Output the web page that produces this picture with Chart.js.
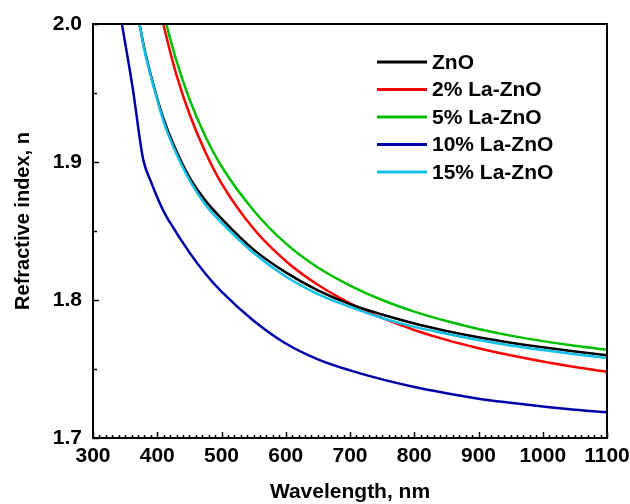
<!DOCTYPE html>
<html>
<head>
<meta charset="utf-8">
<script src="https://cdn.jsdelivr.net/npm/chart.js@4.4.1/dist/chart.umd.min.js"></script>
<style>
  html, body { margin: 0; padding: 0; background: #ffffff; }
  #wrap { width: 630px; height: 504px; }
</style>
</head>
<body>
<div id="wrap"><canvas id="c" width="630" height="504"></canvas></div>
<script>
// ---- data ----
const seriesLabels = ['ZnO', '2% La-ZnO', '5% La-ZnO', '10% La-ZnO', '15% La-ZnO'];
const seriesColors = ['#000000', '#ff0000', '#00bf00', '#0000a8', '#12c0e8'];

const lambdaZnO = [372.4, 380, 390, 400, 410, 425, 450, 475, 500, 550, 600, 650, 700, 750, 800, 850, 900, 950, 1000, 1050, 1100];
const nZnO      = [2.000, 1.982, 1.963, 1.946, 1.931, 1.913, 1.889, 1.872, 1.859, 1.8365, 1.820, 1.807, 1.797, 1.7895, 1.783, 1.7776, 1.773, 1.7691, 1.7657, 1.7627, 1.760];

const lambdaLa2 = [409.4, 420, 430, 450, 475, 500, 550, 600, 650, 700, 750, 800, 850, 900, 950, 1000, 1050, 1100];
const nLa2      = [2.000, 1.980, 1.963, 1.935, 1.907, 1.8845, 1.8516, 1.8283, 1.811, 1.7976, 1.787, 1.7783, 1.7711, 1.7651, 1.7599, 1.7554, 1.7515, 1.748];

const lambdaLa5 = [414.2, 420, 430, 450, 475, 500, 550, 600, 650, 700, 750, 800, 850, 900, 950, 1000, 1050, 1100];
const nLa5      = [2.000, 1.9896, 1.9733, 1.9457, 1.9185, 1.8969, 1.8649, 1.841, 1.8235, 1.8105, 1.800, 1.7916, 1.7848, 1.779, 1.7742, 1.7702, 1.7668, 1.764];

const lambdaLa10 = [345, 362, 378, 390, 400, 410, 420, 450, 475, 500, 550, 600, 650, 700, 750, 800, 850, 900, 950, 1000, 1050, 1100];
const nLa10      = [2.000, 1.953, 1.902, 1.886, 1.8745, 1.8642, 1.856, 1.8345, 1.819, 1.806, 1.785, 1.7685, 1.757, 1.749, 1.7425, 1.737, 1.7325, 1.7285, 1.7255, 1.7228, 1.7205, 1.7187];

const lambdaLa15 = [372.4, 380, 390, 400, 410, 425, 450, 475, 500, 550, 600, 650, 700, 750, 800, 850, 900, 950, 1000, 1050, 1100];
const nLa15      = [2.000, 1.981, 1.962, 1.945, 1.929, 1.911, 1.887, 1.869, 1.856, 1.834, 1.817, 1.8043, 1.795, 1.787, 1.7805, 1.7756, 1.771, 1.767, 1.7637, 1.7607, 1.758];

const xTickValues = [300, 400, 500, 600, 700, 800, 900, 1000, 1100];
const yTickValues = [1.7, 1.8, 1.9, 2.0];
const xTitle = 'Wavelength, nm';
const yTitle = 'Refractive index, n';

// ---- build datasets (15% drawn above ZnO, as in the reference) ----
const seriesX = [lambdaZnO, lambdaLa2, lambdaLa5, lambdaLa10, lambdaLa15];
const seriesY = [nZnO, nLa2, nLa5, nLa10, nLa15];
const drawOrder = [2, 3, 4, 5, 1];
const datasets = seriesLabels.map((label, i) => ({
  label,
  data: seriesX[i].map((x, k) => ({ x, y: seriesY[i][k] })),
  borderColor: seriesColors[i],
  backgroundColor: seriesColors[i],
  borderWidth: 2.5,
  pointRadius: 0,
  fill: false,
  order: drawOrder[i],
  cubicInterpolationMode: 'monotone'
}));

const FONT = 'Liberation Sans, Arial, Helvetica, sans-serif';

const frameAndTicks = {
  id: 'frameAndTicks',
  afterDatasetsDraw(chart) {
    const { ctx, chartArea: a, scales } = chart;
    const xs = scales.x, ys = scales.y;
    ctx.save();
    ctx.strokeStyle = '#000';
    ctx.lineWidth = 2;
    ctx.strokeRect(a.left, a.top, a.right - a.left, a.bottom - a.top);
    ctx.lineWidth = 1.5;
    ctx.beginPath();
    for (let v = xs.min; v <= xs.max + 0.001; v += 10) {
      const px = Math.round(xs.getPixelForValue(v)) + 0.5;
      const major = Math.abs(v % 100) < 0.001;
      const len = major ? 6 : 3;
      ctx.moveTo(px, a.bottom);
      ctx.lineTo(px, a.bottom - len);
    }
    for (let v = ys.min; v <= ys.max + 1e-6; v += 0.05) {
      const py = Math.round(ys.getPixelForValue(v)) + 0.5;
      const major = Math.abs(Math.round(v * 100) % 10) < 0.001;
      const len = major ? 6 : 4;
      ctx.moveTo(a.left, py);
      ctx.lineTo(a.left + len, py);
    }
    ctx.stroke();
    ctx.restore();
  }
};

const yAxisTitle = {
  id: 'yAxisTitle',
  afterDraw(chart) {
    const { ctx } = chart;
    ctx.save();
    ctx.translate(23, 221);
    ctx.rotate(-Math.PI / 2);
    ctx.font = 'bold 20px ' + FONT;
    ctx.fillStyle = '#000';
    ctx.textAlign = 'center';
    ctx.textBaseline = 'middle';
    ctx.fillText(yTitle, 0, 0);
    ctx.restore();
  }
};

const insideLegend = {
  id: 'insideLegend',
  afterDraw(chart) {
    const { ctx } = chart;
    const x0 = 377, x1 = 427, tx = 432, y0 = 62, dy = 27.5;
    ctx.save();
    ctx.font = 'bold 21px ' + FONT;
    ctx.textBaseline = 'middle';
    ctx.textAlign = 'left';
    chart.data.datasets.forEach((ds, i) => {
      const y = y0 + i * dy;
      ctx.strokeStyle = ds.borderColor;
      ctx.lineWidth = 3;
      ctx.beginPath();
      ctx.moveTo(x0, y);
      ctx.lineTo(x1, y);
      ctx.stroke();
      ctx.fillStyle = '#000';
      ctx.fillText(ds.label, tx, y + 1);
    });
    ctx.restore();
  }
};

new Chart(document.getElementById('c').getContext('2d'), {
  type: 'line',
  data: { datasets },
  plugins: [frameAndTicks, yAxisTitle, insideLegend],
  options: {
    responsive: false,
    animation: false,
    devicePixelRatio: 1,
    layout: { padding: { top: 24, right: 23, left: 0, bottom: 0 } },
    plugins: { legend: { display: false }, tooltip: { enabled: false } },
    scales: {
      x: {
        type: 'linear',
        min: 300, max: 1100,
        afterBuildTicks: (s) => { s.ticks = xTickValues.map(v => ({ value: v })); },
        afterFit: (s) => { s.height = 66; s.paddingLeft = 0; s.paddingRight = 0; },
        grid: { display: false, drawTicks: false },
        border: { display: false },
        ticks: { color: '#000', padding: 6, maxRotation: 0, autoSkip: false,
                 callback: (v) => String(v),
                 font: { family: FONT, size: 21, weight: 'bold' } },
        title: { display: true, text: xTitle, color: '#000', padding: { top: 0, bottom: -1 },
                 font: { family: FONT, size: 21, weight: 'bold' } }
      },
      y: {
        type: 'linear',
        min: 1.7, max: 2.0,
        afterBuildTicks: (s) => { s.ticks = yTickValues.map(v => ({ value: v })); },
        afterFit: (s) => { s.width = 93; s.paddingTop = 0; s.paddingBottom = 0; },
        grid: { display: false, drawTicks: false },
        border: { display: false },
        ticks: { color: '#000', padding: 11, callback: (v) => Number(v).toFixed(1),
                 font: { family: FONT, size: 21, weight: 'bold' } },
        title: { display: false }
      }
    }
  }
});
</script>
</body>
</html>
